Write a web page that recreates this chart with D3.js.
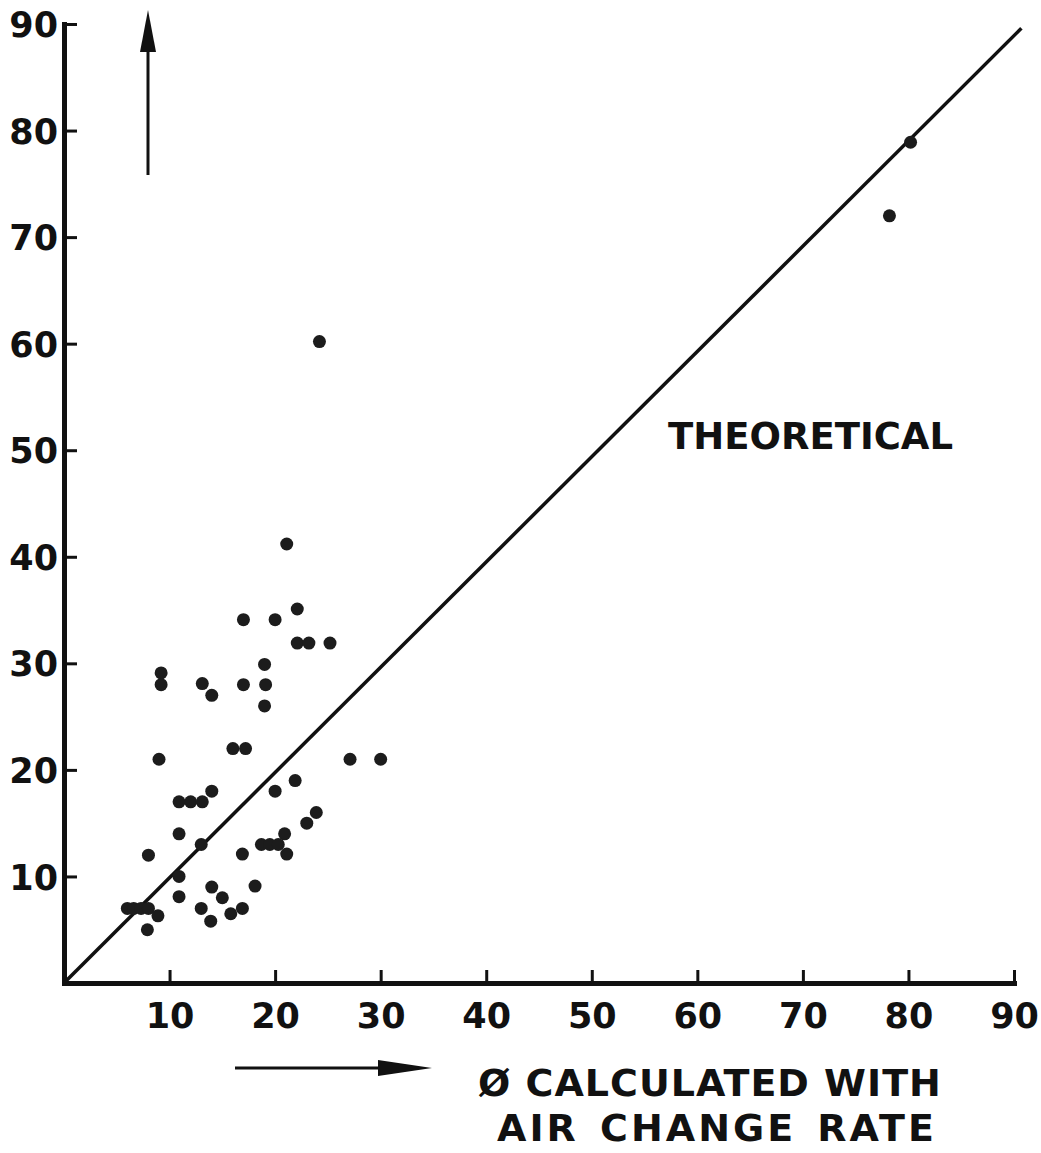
<!DOCTYPE html>
<html>
<head>
<meta charset="utf-8">
<script src="https://cdn.jsdelivr.net/npm/d3@7"></script>
<style>
  body { margin: 0; background: #fff; }
  svg text { font-family: "DejaVu Sans", sans-serif; font-weight: bold; fill: #111; }
</style>
</head>
<body>
<svg width="1041" height="1153"></svg>
<script>
// measured values (x = calculated with air change rate, y = observed)
const obsX = [21.1, 22.1, 17.0, 20.0, 22.1, 23.2, 25.2, 9.2, 9.2, 13.1, 14.0, 17.0, 19.0, 19.1, 19.0,
  16.0, 17.2, 9.0, 27.1, 30.0, 21.9, 20.0, 14.0, 10.9, 12.0, 13.1, 23.9, 23.0, 20.9, 10.9,
  18.7, 19.5, 20.3, 21.1, 13.0, 8.0, 16.9, 10.9, 18.1, 14.0, 15.0, 10.9, 13.0, 13.9, 15.8,
  16.9, 6.0, 6.6, 7.3, 8.0, 8.9, 7.9, 24.2, 78.2, 80.2];
const obsY = [41.2, 35.1, 34.1, 34.1, 31.9, 31.9, 31.9, 29.1, 28.0, 28.1, 27.0, 28.0, 29.9, 28.0, 26.0,
  22.0, 22.0, 21.0, 21.0, 21.0, 19.0, 18.0, 18.0, 17.0, 17.0, 17.0, 16.0, 15.0, 14.0, 14.0,
  13.0, 13.0, 13.0, 12.1, 13.0, 12.0, 12.1, 10.0, 9.1, 9.0, 8.0, 8.1, 7.0, 5.8, 6.5,
  7.0, 7.0, 7.0, 7.0, 7.0, 6.3, 5.0, 60.2, 72.0, 78.9];
const tickValues = [10, 20, 30, 40, 50, 60, 70, 80, 90];
const theoretical = [[0, 0], [90.7, 89.6]];

const svg = d3.select('svg');

const x0 = 64, x1 = 1014, y0 = 983, y1 = 24;

const xScale = d3.scaleLinear().domain([0, 90]).range([x0, x1]);
const yScale = d3.scaleLinear().domain([0, 90]).range([y0, y1]);

const ink = '#111';

// axes
const xAxis = d3.axisBottom(xScale)
  .tickValues(tickValues)
  .tickSizeInner(-13)
  .tickSizeOuter(0)
  .tickPadding(20)
  .tickFormat(d3.format('d'));

const yAxis = d3.axisLeft(yScale)
  .tickValues(tickValues)
  .tickSizeInner(-13)
  .tickSizeOuter(0)
  .tickPadding(8)
  .tickFormat(d3.format('d'));

const xAxisG = svg.append('g')
  .attr('transform', `translate(0,${y0})`)
  .call(xAxis);

const yAxisG = svg.append('g')
  .attr('transform', `translate(${x0},0)`)
  .call(yAxis);

[xAxisG, yAxisG].forEach(g => {
  g.select('.domain').attr('stroke', ink).attr('stroke-width', 5)
    .attr('stroke-linecap', 'square');
  g.selectAll('.tick line').attr('stroke', ink).attr('stroke-width', 3);
  g.selectAll('.tick text')
    .attr('font-size', 35)
    .attr('font-family', '"DejaVu Sans", sans-serif')
    .attr('font-weight', 'bold')
    .attr('fill', ink);
});
xAxisG.selectAll('.tick text').attr('dy', '0.71em');
yAxisG.selectAll('.tick text').attr('dy', '0.36em').attr('x', -6);

// theoretical line
const line = d3.line()
  .x(d => xScale(d[0]))
  .y(d => yScale(d[1]));

svg.append('path')
  .datum(theoretical)
  .attr('d', line)
  .attr('fill', 'none')
  .attr('stroke', ink)
  .attr('stroke-width', 3.5);

// observed points
svg.append('g')
  .selectAll('circle')
  .data(obsX.map((v, i) => ({x: v, y: obsY[i]})))
  .enter().append('circle')
  .attr('cx', d => xScale(d.x))
  .attr('cy', d => yScale(d.y))
  .attr('r', 6.5)
  .attr('fill', '#1c1c1c');

// arrows
svg.append('line')
  .attr('x1', 148).attr('y1', 175)
  .attr('x2', 148).attr('y2', 40)
  .attr('stroke', ink).attr('stroke-width', 3);
svg.append('path')
  .attr('d', 'M148,10 L140,52 L156,52 Z')
  .attr('fill', ink);

svg.append('line')
  .attr('x1', 235).attr('y1', 1068)
  .attr('x2', 390).attr('y2', 1068)
  .attr('stroke', ink).attr('stroke-width', 3);
svg.append('path')
  .attr('d', 'M432,1068 L378,1060 L378,1076 Z')
  .attr('fill', ink);

// labels
svg.append('text')
  .attr('x', 668)
  .attr('y', 449)
  .attr('font-size', 37)
  .text('THEORETICAL');

svg.append('text')
  .attr('x', 478)
  .attr('y', 1096)
  .attr('font-size', 38)
  .attr('letter-spacing', 1)
  .text('Ø CALCULATED WITH');

svg.append('text')
  .attr('x', 497)
  .attr('y', 1141)
  .attr('font-size', 38)
  .attr('letter-spacing', 3)
  .attr('word-spacing', 5)
  .text('AIR CHANGE RATE');
</script>
</body>
</html>
